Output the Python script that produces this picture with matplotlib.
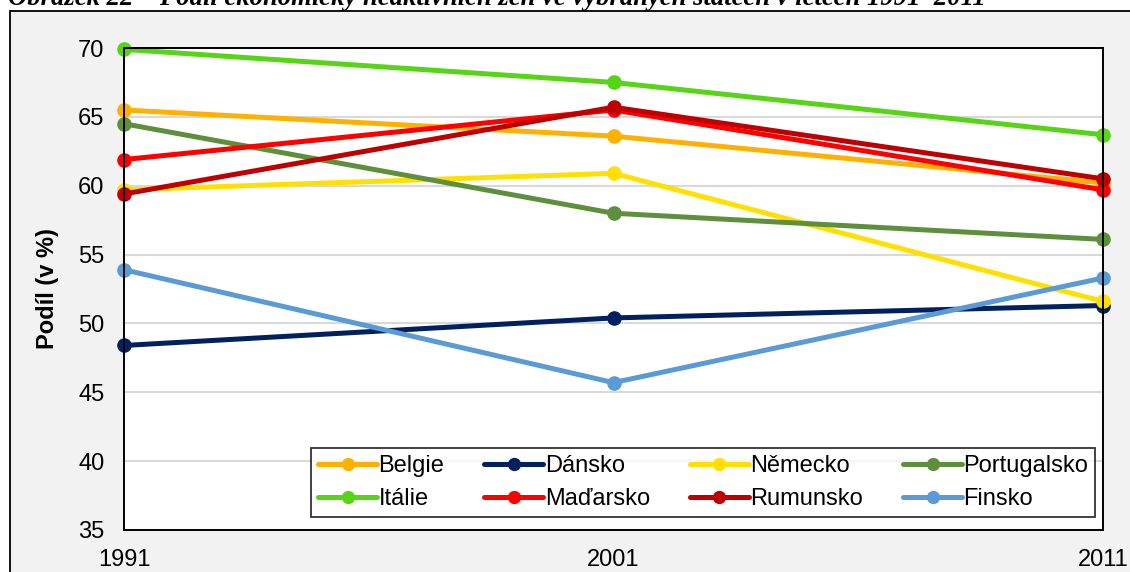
import matplotlib
matplotlib.use("Agg")
import matplotlib.pyplot as plt
from matplotlib.patches import Rectangle

plt.rcParams['font.family'] = ['Liberation Sans', 'DejaVu Sans']

years = ["1991", "2001", "2011"]
series_names = ["Belgie", "Dánsko", "Německo", "Portugalsko",
                "Itálie", "Maďarsko", "Rumunsko", "Finsko"]
belgie = [65.5, 63.6, 60.2]
dansko = [48.4, 50.4, 51.3]
nemecko = [59.7, 60.9, 51.6]
portugalsko = [64.5, 58.0, 56.1]
italie = [69.9, 67.5, 63.7]
madarsko = [61.9, 65.5, 59.7]
rumunsko = [59.4, 65.7, 60.5]
finsko = [53.9, 45.7, 53.3]
values = [belgie, dansko, nemecko, portugalsko, italie, madarsko, rumunsko, finsko]
colors = ["#FFB000", "#002060", "#FFE000", "#5E8F3C",
          "#55D515", "#FF0000", "#C00000", "#5B9BD5"]
yticks = [35, 40, 45, 50, 55, 60, 65, 70]

W, H = 1130, 572
fig = plt.figure(figsize=(W / 100, H / 100), dpi=100)
fig.patch.set_facecolor("white")

# outer frame with light gray background
bg = fig.add_axes([0, 0, 1, 1], zorder=-10)
bg.set_xlim(0, W)
bg.set_ylim(H, 0)
bg.axis("off")
bg.add_patch(Rectangle((10, 11), W + 50, H + 50, facecolor="#F2F2F2",
                       edgecolor="black", linewidth=1.3))

fig.text(8 / W, 1 - 5 / H,
         "Obrázek 22 – Podíl ekonomicky neaktivních žen ve vybraných státech v letech 1991–2011",
         family=["Liberation Serif", "DejaVu Serif"], fontweight="bold", fontstyle="italic",
         fontsize=19.2, va="baseline", ha="left")

ax = fig.add_axes([124 / W, 1 - 530 / H, (1103 - 124) / W, (530 - 48) / H], zorder=1)
ax.set_facecolor("white")
x = list(range(len(years)))
lines = []
for name, vals, c in zip(series_names, values, colors):
    ln, = ax.plot(x, vals, color=c, linewidth=3.6, marker="o", markersize=9.5,
                  label=name, clip_on=False, solid_capstyle="round")
    lines.append(ln)

ax.set_xlim(0, 2)
ax.set_ylim(35, 70)
ax.set_xticks(x)
ax.set_xticklabels(years)
ax.set_yticks(yticks)
ax.tick_params(axis="both", length=0, labelsize=17, colors="black")
ax.tick_params(axis="y", pad=14)
ax.tick_params(axis="x", pad=14)
ax.grid(axis="y", color="#D9D9D9", linewidth=1.5)
ax.set_axisbelow(True)
for s in ax.spines.values():
    s.set_color("black")
    s.set_linewidth(1.4)

ax.set_ylabel("Podíl (v %)", fontsize=17, fontweight="bold", labelpad=14)

# legend ordering (row-wise as in reference)
order = [0, 4, 1, 5, 2, 6, 3, 7]
leg = ax.legend([lines[i] for i in order], [series_names[i] for i in order],
                ncol=4, loc="lower right", bbox_to_anchor=(0.992, 0.027),
                borderaxespad=0.0,
                fontsize=17, frameon=True, fancybox=False, edgecolor="black",
                handlelength=2.5, handletextpad=0.05, columnspacing=1.7,
                borderpad=0.3, labelspacing=0.45, markerscale=0.9)
leg.get_frame().set_linewidth(1.3)

fig.savefig("out.png", dpi=100, facecolor=fig.get_facecolor())
